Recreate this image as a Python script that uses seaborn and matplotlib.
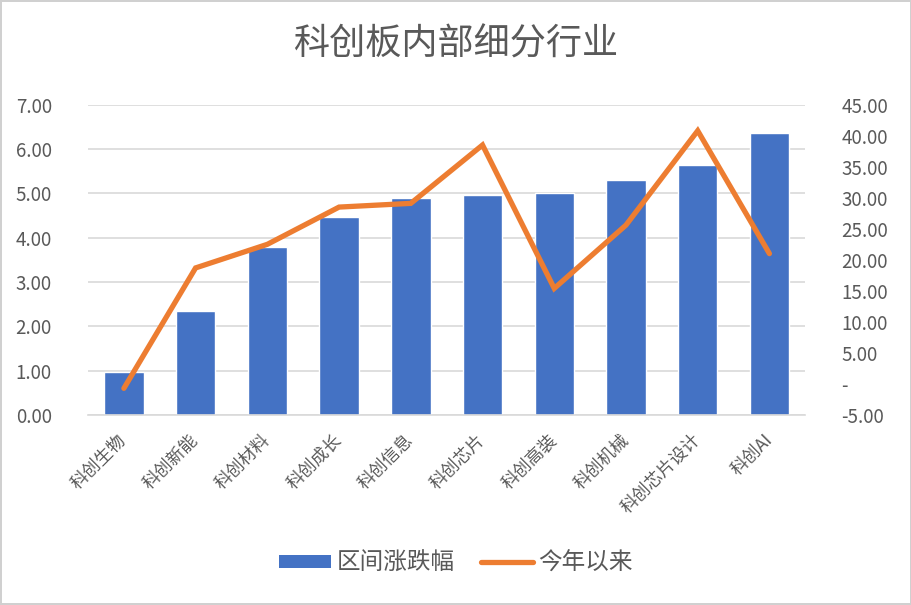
import numpy as np
import pandas as pd
import matplotlib
matplotlib.use("Agg")
import matplotlib.pyplot as plt
import seaborn as sns
from matplotlib.patches import Patch
from matplotlib.lines import Line2D
from matplotlib.ticker import FuncFormatter

# 数据
industries = ["科创生物", "科创新能", "科创材料", "科创成长", "科创信息",
              "科创芯片", "科创高装", "科创机械", "科创芯片设计", "科创AI"]
period_change = [0.98, 2.35, 3.79, 4.46, 4.89, 4.97, 5.00, 5.31, 5.64, 6.36]
ytd_change = [-0.7, 18.7, 22.5, 28.5, 29.1, 38.5, 15.4, 25.6, 40.8, 21.0]

sns.set_style("white")
plt.rcParams['font.family'] = ['Noto Sans CJK SC', 'DejaVu Sans']

blue = "#4472C4"
orange = "#ED7D31"
grey_txt = "#595959"

df = pd.DataFrame({"行业": industries, "区间涨跌幅": period_change, "今年以来": ytd_change})

fig = plt.figure(figsize=(9.12, 6.05), dpi=100)
fig.patch.set_edgecolor("#d0d0d0")
fig.patch.set_linewidth(1.5)
ax = fig.add_axes([0.0965, 0.314, 0.7865, 0.513])

sns.barplot(data=df, x="行业", y="区间涨跌幅", color=blue, width=0.55,
            saturation=1, ax=ax, zorder=2)
ax.set_ylim(0, 7)
ax.set_yticks(np.arange(0, 7.01, 1))
ax.yaxis.set_major_formatter(FuncFormatter(lambda v, p: f"{v:.2f}"))
ax.set_xlim(-0.5, len(industries) - 0.5)
ax.grid(axis="y", color="#d9d9d9", linewidth=1.2, zorder=0)
ax.set_axisbelow(True)
ax.set_xlabel("")
ax.set_ylabel("")
for s in ax.spines.values():
    s.set_visible(False)
ax.spines["bottom"].set_visible(True)
ax.spines["bottom"].set_color("#d9d9d9")
ax.spines["bottom"].set_linewidth(1.2)
ax.tick_params(axis="y", length=0, labelsize=13.5, colors=grey_txt, pad=26)
ax.tick_params(axis="x", length=0, labelsize=12.5, colors=grey_txt, pad=16)
plt.setp(ax.get_xticklabels(), rotation=45, ha="right", va="center",
         rotation_mode="anchor")

ax2 = ax.twinx()
sns.lineplot(x=np.arange(len(industries)), y=ytd_change, color=orange,
             linewidth=3.8, ax=ax2, solid_capstyle="round", solid_joinstyle="miter")
ax2.set_ylim(-5, 45)
ax2.set_yticks(np.arange(-5, 45.01, 5))
ax2.yaxis.set_major_formatter(FuncFormatter(lambda v, p: "-" if abs(v) < 1e-9 else f"{v:.2f}"))
for s in ax2.spines.values():
    s.set_visible(False)
ax2.tick_params(axis="y", length=0, labelsize=13.5, colors=grey_txt, pad=26)
ax2.set_ylabel("")
ax2.grid(False)

fig.text(0.5, 0.926, "科创板内部细分行业", ha="center", va="center",
         fontsize=26, color=grey_txt)

handles = [Patch(facecolor=blue, edgecolor="none"),
           Line2D([0], [0], color=orange, linewidth=3.8, solid_capstyle="round")]
fig.legend(handles, ["区间涨跌幅", "今年以来"], loc="center", bbox_to_anchor=(0.5, 0.069),
           ncol=2, frameon=False, fontsize=17, labelcolor=grey_txt,
           handlelength=2.2, handleheight=0.5, handletextpad=0.25, columnspacing=1.1)

fig.savefig("out.png", dpi=100, edgecolor=fig.get_edgecolor())
